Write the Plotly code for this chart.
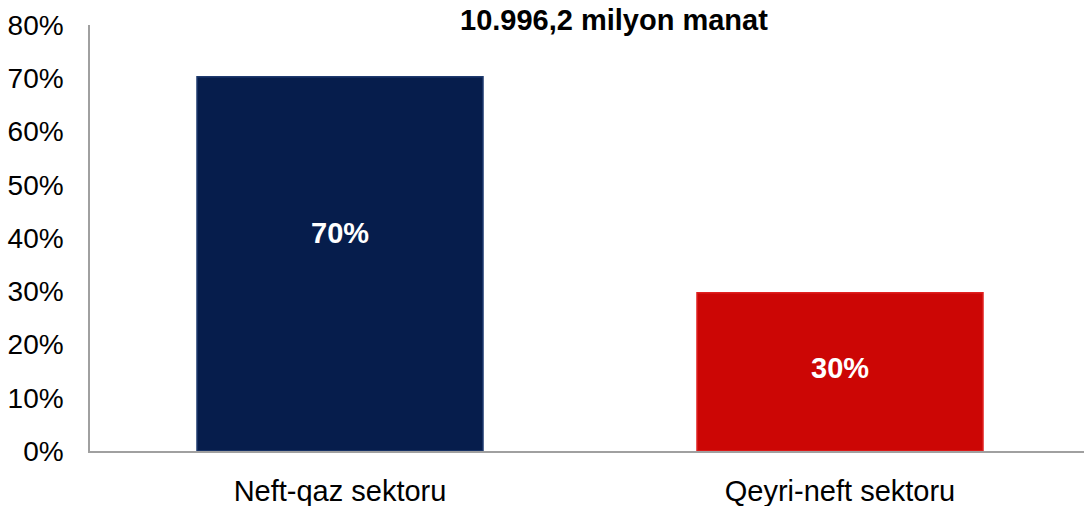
import plotly.graph_objects as go

categories = ["Neft-qaz sektoru", "Qeyri-neft sektoru"]
values = [70.3, 29.7]
labels = ["70%", "30%"]
label_y = [40.9, 15.6]
colors = ["#061D4C", "#CC0605"]
line_colors = ["#1E3A6E", "#E02020"]
title_text = "<b>10.996,2 milyon manat</b>"
y_ticks = [0, 10, 20, 30, 40, 50, 60, 70, 80]
y_ticktext = [f"{v}%" for v in y_ticks]

FONT = "Liberation Sans, Arial"

fig = go.Figure()
fig.add_trace(go.Bar(
    x=categories, y=values,
    width=0.572,
    marker=dict(color=colors, line=dict(color=line_colors, width=1.5)),
    hoverinfo="skip",
))
for c, lab, ly in zip(categories, labels, label_y):
    fig.add_annotation(x=c, y=ly, text=f"<b>{lab}</b>", showarrow=False,
                       font=dict(family=FONT, size=29, color="white"))
fig.add_annotation(xref="paper", yref="paper", x=0.527, y=1, yshift=5, text=title_text,
                   showarrow=False, yanchor="middle",
                   font=dict(family=FONT, size=29, color="black"))

fig.update_layout(
    width=1084, height=506,
    margin=dict(l=90, r=0, t=25, b=55),
    plot_bgcolor="white", paper_bgcolor="white",
    showlegend=False,
    font=dict(family=FONT, size=28, color="black"),
)
fig.update_xaxes(range=[-0.5, 1.488], showline=True, linecolor="#A0A0A0", linewidth=1.5,
                 showgrid=False, ticks="", ticklabelstandoff=13, zeroline=False,
                 tickfont=dict(size=29))
fig.update_yaxes(range=[0, 80], tickvals=y_ticks, ticktext=y_ticktext, showline=True,
                 linecolor="#A0A0A0", linewidth=1.5, showgrid=False, ticks="",
                 ticklabelstandoff=19, zeroline=False)

fig.write_html("out.html", config={"displayModeBar": False},
               post_script="document.body.style.margin='0';")
